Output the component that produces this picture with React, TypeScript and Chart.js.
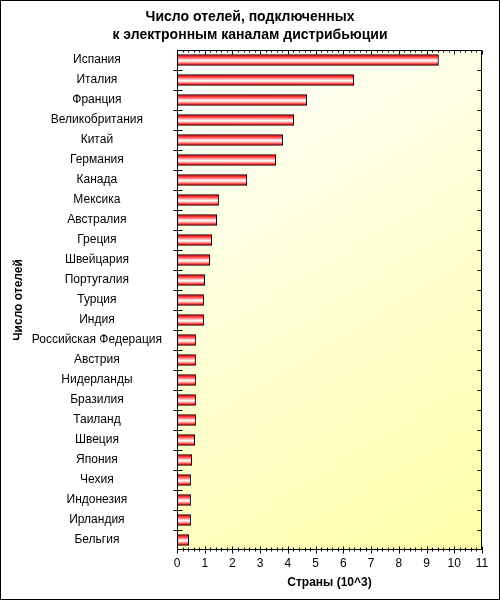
import { useEffect, useRef } from 'react';
import { Chart, ChartConfiguration, registerables } from 'chart.js';

Chart.register(...registerables);

const titleLines = ['Число отелей, подключенных', 'к электронным каналам дистрибьюции'];
const xTitle = 'Страны (10^3)';
const yTitle = 'Число отелей';

const countries = [
  'Испания', 'Италия', 'Франция', 'Великобритания', 'Китай', 'Германия', 'Канада',
  'Мексика', 'Австралия', 'Греция', 'Швейцария', 'Португалия', 'Турция', 'Индия',
  'Российская Федерация', 'Австрия', 'Нидерланды', 'Бразилия', 'Таиланд', 'Швеция',
  'Япония', 'Чехия', 'Индонезия', 'Ирландия', 'Бельгия',
];

const hotels = [
  9.43, 6.37, 4.68, 4.21, 3.81, 3.56, 2.52,
  1.5, 1.43, 1.25, 1.18, 1.0, 0.96, 0.96,
  0.67, 0.67, 0.67, 0.67, 0.67, 0.64,
  0.53, 0.49, 0.49, 0.49, 0.42,
];

const xMin = 0;
const xMax = 11;
const minorStep = 0.2;

const FONT = '"Liberation Sans", Arial, sans-serif';

// white page, yellowish plot area, frame and tick marks
const framePlugin = {
  id: 'frame',
  beforeDraw(chart: Chart) {
    const { ctx, width, height } = chart;
    ctx.save();
    ctx.fillStyle = '#ffffff';
    ctx.fillRect(0, 0, width, height);
    ctx.restore();
  },
  beforeDatasetsDraw(chart: Chart) {
    const { ctx, chartArea: a } = chart;
    const g = ctx.createLinearGradient(a.left, a.top, a.right, a.bottom);
    g.addColorStop(0, '#ffffff');
    g.addColorStop(1, '#ffffa8');
    ctx.save();
    ctx.fillStyle = g;
    ctx.fillRect(a.left, a.top, a.right - a.left, a.bottom - a.top);
    ctx.restore();
  },
  afterDraw(chart: Chart) {
    const { ctx, chartArea: a, width, height } = chart;
    const xs = chart.scales.x;
    const ys = chart.scales.y;
    ctx.save();
    ctx.strokeStyle = '#000000';
    ctx.lineWidth = 1;
    ctx.strokeRect(0.5, 0.5, width - 1, height - 1);
    const L = Math.round(a.left) + 0.5;
    const R = Math.round(a.right) - 0.5;
    const T = Math.round(a.top) + 0.5;
    const B = Math.round(a.bottom) - 0.5;
    ctx.strokeRect(L, T, R - L, B - T);

    ctx.beginPath();
    // category boundaries on the left and right
    for (let i = 1; i < countries.length; i++) {
      const y = Math.round((ys.getPixelForValue(i - 1) + ys.getPixelForValue(i)) / 2) + 0.5;
      ctx.moveTo(L - 4, y);
      ctx.lineTo(L + 5, y);
      ctx.moveTo(R - 4, y);
      ctx.lineTo(R, y);
    }
    // value ticks on top and bottom
    const n = Math.round((xMax - xMin) / minorStep);
    for (let k = 0; k <= n; k++) {
      const v = xMin + k * minorStep;
      const major = k % 5 === 0;
      const x = Math.round(xs.getPixelForValue(v)) + 0.5;
      ctx.moveTo(x, T);
      ctx.lineTo(x, T + (major ? 4 : 2));
      ctx.moveTo(x, B - (major ? 3 : 2));
      ctx.lineTo(x, B + (major ? 4 : 2));
    }
    ctx.stroke();
    ctx.restore();
  },
};

export default function App() {
  const canvasRef = useRef<HTMLCanvasElement>(null);
  const chartRef = useRef<Chart | null>(null);

  useEffect(() => {
    document.body.style.margin = '0';
    if (!canvasRef.current) return;
    if (chartRef.current) chartRef.current.destroy();

    const config: ChartConfiguration = {
      type: 'bar',
      data: {
        labels: countries,
        datasets: [{
          data: hotels,
          backgroundColor: (c: any) => {
            const chart = c.chart;
            const ys = chart.scales?.y;
            const y = ys ? ys.getPixelForValue(c.dataIndex) : NaN;
            if (!Number.isFinite(y)) return '#ff4040';
            const g = chart.ctx.createLinearGradient(0, y - 5, 0, y + 5);
            g.addColorStop(0, '#d00000');
            g.addColorStop(0.15, '#ff2a2a');
            g.addColorStop(0.35, '#ff9090');
            g.addColorStop(0.55, '#ffffff');
            g.addColorStop(0.75, '#ffa0a0');
            g.addColorStop(0.9, '#ff2020');
            g.addColorStop(1, '#c00000');
            return g;
          },
          borderColor: '#000000',
          borderWidth: 1,
          borderSkipped: 'start',
          barThickness: 11,
        }],
      },
      options: {
        indexAxis: 'y',
        responsive: false,
        animation: false,
        layout: { padding: { top: 0, right: 18, bottom: 0, left: 18 } },
        plugins: {
          legend: { display: false },
          tooltip: { enabled: false },
          title: {
            display: true,
            text: titleLines,
            color: '#000000',
            font: { family: FONT, size: 14, weight: 'bold', lineHeight: '18px' },
            padding: { top: 8, bottom: 6 },
          },
        },
        scales: {
          x: {
            type: 'linear',
            min: xMin,
            max: xMax,
            grid: { display: false, drawTicks: false },
            border: { display: false },
            afterFit: (s: any) => { s.height = 50; },
            ticks: {
              stepSize: 1,
              autoSkip: false,
              maxRotation: 0,
              padding: 6,
              color: '#000000',
              font: { family: FONT, size: 12 },
            },
            title: {
              display: true,
              text: xTitle,
              color: '#000000',
              font: { family: FONT, size: 12, weight: 'bold' },
              padding: { top: 0, bottom: 10 },
            },
          },
          y: {
            grid: { display: false, drawTicks: false },
            border: { display: false },
            afterFit: (s: any) => { s.width = 159; },
            ticks: {
              autoSkip: false,
              crossAlign: 'center',
              padding: 15,
              color: '#000000',
              font: { family: FONT, size: 12 },
            },
            title: {
              display: true,
              text: yTitle,
              color: '#000000',
              font: { family: FONT, size: 12, weight: 'bold' },
              padding: { top: -7, bottom: 0 },
            },
          },
        },
      },
      plugins: [framePlugin],
    };

    chartRef.current = new Chart(canvasRef.current, config);
    return () => {
      if (chartRef.current) {
        chartRef.current.destroy();
        chartRef.current = null;
      }
    };
  }, []);

  return (
    <div style={{ width: 500, height: 600 }}>
      <canvas ref={canvasRef} width={500} height={600} style={{ display: 'block' }} />
    </div>
  );
}
